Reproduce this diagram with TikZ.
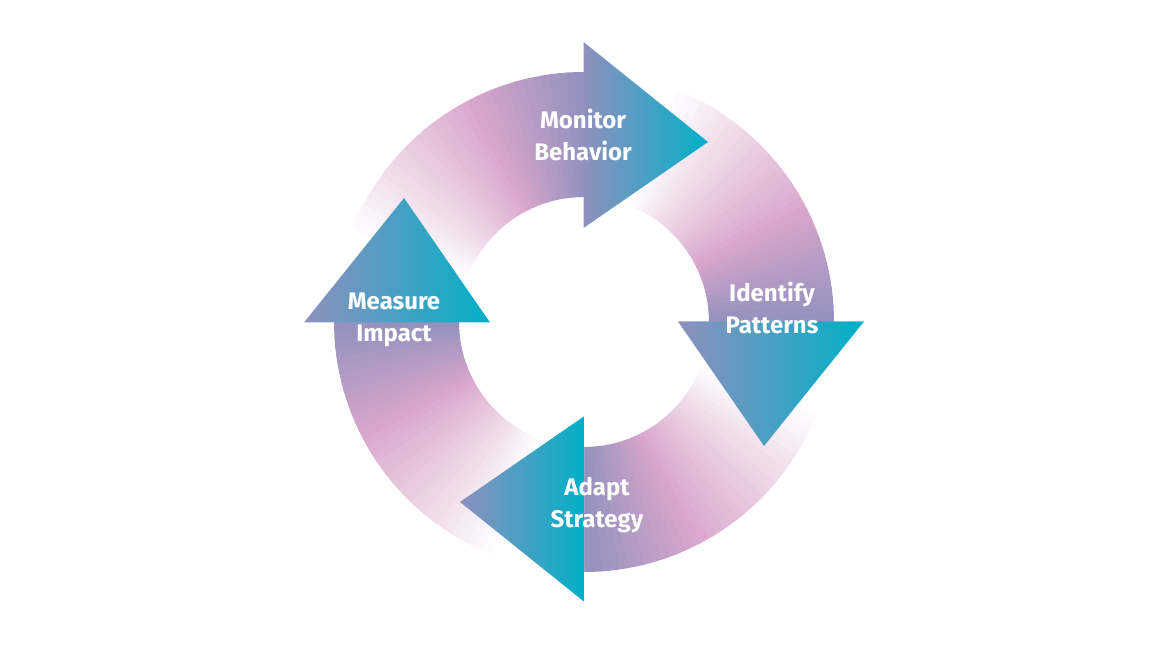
\documentclass[tikz,border=0pt]{standalone}
\usepackage{fontspec}
\setmainfont{Fira Sans}
\definecolor{pinkc}{HTML}{D9A6CB}
\definecolor{purp}{HTML}{8F90BE}
\definecolor{tealc}{HTML}{00B0C8}
\tikzset{lbl/.style={text=white,font=\bfseries\fontsize{12}{16}\selectfont,align=center}}
\begin{document}
\begin{tikzpicture}[x=0.5pt,y=0.5pt]
\useasboundingbox (0,0) rectangle (1161,652);
\begin{scope}[shift={(584,330)}]
\foreach \a in {90,0,-90,180}{
 \foreach \i in {0,...,44}{
  \pgfmathsetmacro\aa{\a+90-2*\i}
  \pgfmathsetmacro\ab{\aa-2.3}
  \pgfmathtruncatemacro\p{\i<31 ? max(0,(\i-10)/21*100) : (\i-31)/14*100}
  \ifnum\i<31 \colorlet{cc}{pinkc!\p!white}\else\colorlet{cc}{purp!\p!pinkc}\fi
  \fill[cc] (\aa:250) arc(\aa:\ab:250) -- (\ab:125) arc(\ab:\aa:125) -- cycle;
 }
}
\foreach \a in {90,0,-90,180}{
 \begin{scope}[rotate=\a-90]
  \shade[left color=purp,right color=tealc] (-0.5,94) -- (-0.5,280) -- (124,180) -- cycle;
 \end{scope}
}
\node[lbl] (m) at (-1,187) {Monitor\\Behavior};
\node[lbl] (i) at (188,14) {Identify\\Patterns};
\node[lbl] (s) at (13,-183) {Adapt\\Strategy};
\node[lbl] (p) at (-190,2) {Measure\\Impact};
\end{scope}
\end{tikzpicture}
\end{document}
